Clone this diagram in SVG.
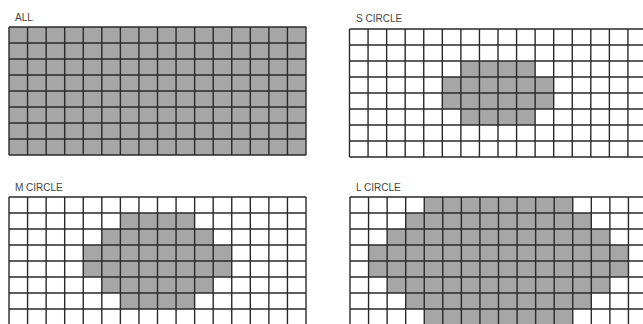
<svg xmlns="http://www.w3.org/2000/svg" xmlns:xlink="http://www.w3.org/1999/xlink" width="643" height="324" viewBox="0 0 643 324">
<style>
.lbl{font-family:"Liberation Sans",Arial,sans-serif;font-size:10px;fill:#444;}
.on{fill:#a6a6a6;}
.gl{fill:none;stroke:#2a2a2a;stroke-width:1.4;}
</style>
<defs>
<path id="grid" class="gl" d="M0,0V128M18.56,0V128M37.13,0V128M55.69,0V128M74.25,0V128M92.81,0V128M111.38,0V128M129.94,0V128M148.5,0V128M167.06,0V128M185.63,0V128M204.19,0V128M222.75,0V128M241.31,0V128M259.88,0V128M278.44,0V128M297,0V128M0,0H297M0,16H297M0,32H297M0,48H297M0,64H297M0,80H297M0,96H297M0,112H297M0,128H297"/>
</defs>
<rect width="643" height="324" fill="#fff"/>
<g id="all">
<text class="lbl" x="15" y="21">ALL</text>
<g transform="translate(9,27)">
<rect class="on" x="0" y="0" width="297" height="128"/>
<use xlink:href="#grid"/>
</g>
</g>
<g id="s-circle">
<text class="lbl" x="356" y="22">S CIRCLE</text>
<g transform="translate(349.5,29)">
<rect class="on" x="111.38" y="32" width="74.25" height="16"/>
<rect class="on" x="92.81" y="48" width="111.38" height="32"/>
<rect class="on" x="111.38" y="80" width="74.25" height="16"/>
<use xlink:href="#grid"/>
</g>
</g>
<g id="m-circle">
<text class="lbl" x="15" y="191">M CIRCLE</text>
<g transform="translate(9,197)">
<rect class="on" x="111.38" y="16" width="74.25" height="16"/>
<rect class="on" x="92.81" y="32" width="111.38" height="16"/>
<rect class="on" x="74.25" y="48" width="148.5" height="32"/>
<rect class="on" x="92.81" y="80" width="111.38" height="16"/>
<rect class="on" x="111.38" y="96" width="74.25" height="16"/>
<use xlink:href="#grid"/>
</g>
</g>
<g id="l-circle">
<text class="lbl" x="356" y="191">L CIRCLE</text>
<g transform="translate(350,197)">
<rect class="on" x="74.25" y="0" width="148.5" height="16"/>
<rect class="on" x="55.69" y="16" width="185.63" height="16"/>
<rect class="on" x="37.13" y="32" width="222.75" height="16"/>
<rect class="on" x="18.56" y="48" width="259.88" height="32"/>
<rect class="on" x="37.13" y="80" width="222.75" height="16"/>
<rect class="on" x="55.69" y="96" width="185.63" height="16"/>
<rect class="on" x="74.25" y="112" width="148.5" height="16"/>
<use xlink:href="#grid"/>
</g>
</g>
</svg>
